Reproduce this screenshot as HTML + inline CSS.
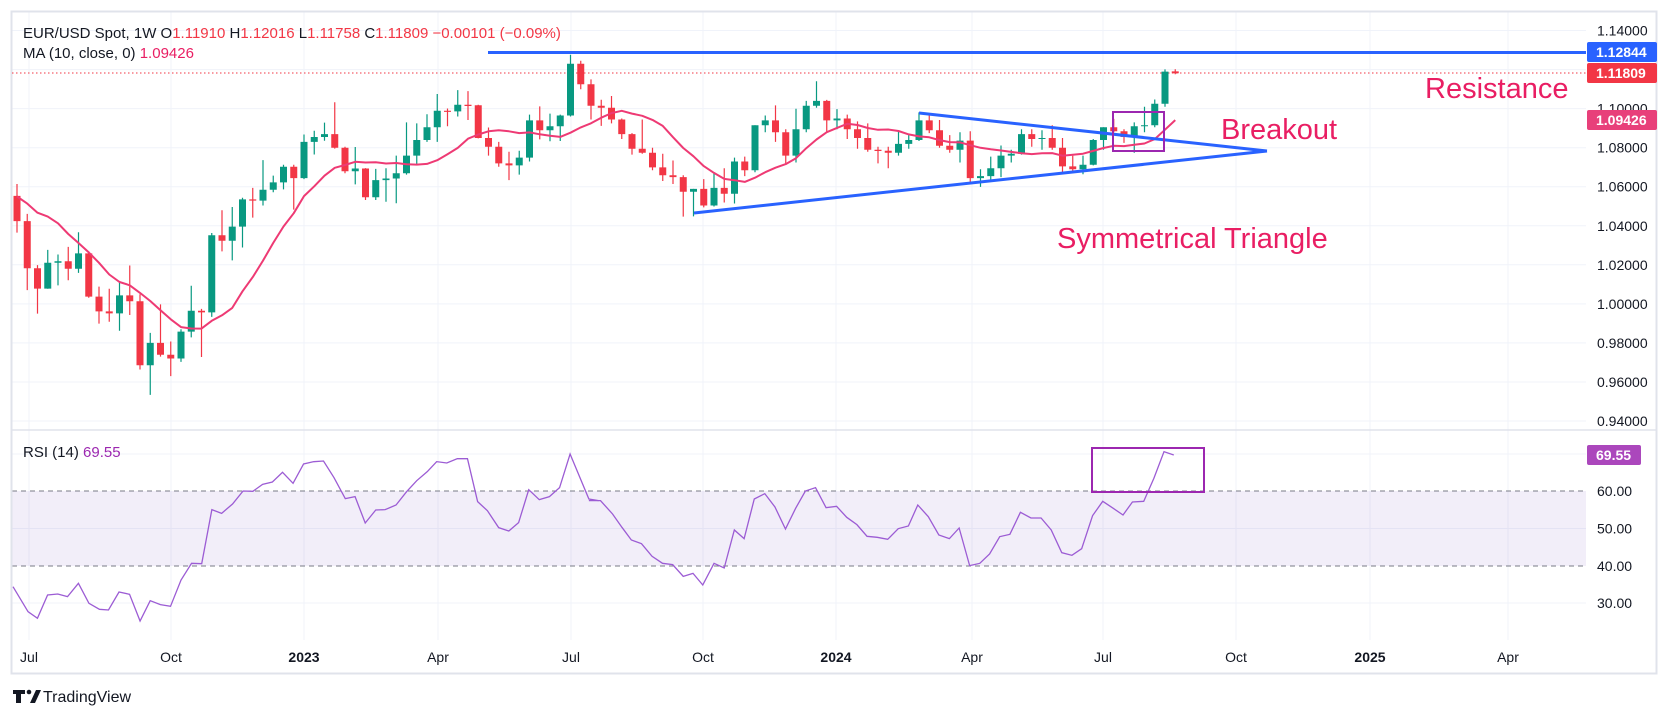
<!DOCTYPE html>
<html><head><meta charset="utf-8"><style>
html,body{margin:0;padding:0;background:#fff;}
svg{display:block;font-family:"Liberation Sans",sans-serif;}
</style></head><body>
<svg width="1675" height="718" viewBox="0 0 1675 718" xmlns="http://www.w3.org/2000/svg">
<rect x="0" y="0" width="1675" height="718" fill="#fff"/>
<g stroke="#f0f3fa" stroke-width="1">
<path d="M29 12V640M171 12V640M304 12V640M438 12V640M571 12V640M703 12V640M836 12V640M972 12V640M1103 12V640M1236 12V640M1370 12V640M1508 12V640"/>
<path d="M12 30.5H1586M12 69.6H1586M12 108.6H1586M12 147.7H1586M12 186.7H1586M12 225.8H1586M12 264.8H1586M12 303.9H1586M12 342.9H1586M12 382H1586M12 421H1586"/>
<path d="M12 454H1586M12 528.5H1586M12 603H1586"/>
</g>
<rect x="12" y="491" width="1574" height="75" fill="#7e57c2" fill-opacity="0.1"/>
<line x1="12" y1="491" x2="1586" y2="491" stroke="#787b86" stroke-dasharray="5,4"/>
<line x1="12" y1="566" x2="1586" y2="566" stroke="#787b86" stroke-dasharray="5,4"/>
<line x1="12" y1="430" x2="1656" y2="430" stroke="#e0e3eb" stroke-width="1.5"/>
<rect x="11.5" y="11.5" width="1645" height="662" fill="none" stroke="#e0e3eb" stroke-width="2"/>
<line x1="12" y1="73" x2="1586" y2="73" stroke="#f23645" stroke-dasharray="1.5,2.5"/>
<g transform="translate(0,1.5)">
<path fill="none" stroke="#f23645" stroke-width="1.2" d="M17 182.5V231.1M27.25 212.4V288.6M37.5 263.6V312.1M68.25 245.4V278.7M88.75 249.9V296.2M99 285.1V322.1M109.25 287.3V320.3M129.75 264V313.5M140 292.7V368M160.5 302.9V355.1M170.75 340V374.6M201.5 307.4V355.5M222 208.7V249.9M252.75 186.4V216.1M293.75 163.3V208.1M334.75 100.7V147.1M345 145.3V171.7M365.5 166.6V198.5M447.5 107V124.8M468 89.6V118.5M478.25 103.3V136.9M488.5 126V154.1M498.75 140.4V165.3M509 150.2V178.6M539.75 104.9V137.9M580.75 59.3V87.7M591 77.9V118M601.25 98.2V124.4M611.5 94.5V121.9M621.75 117V137.5M632 131.6V153.1M642.25 118V152.2M652.5 146.3V168.8M662.75 152.2V179.5M673 159V182.5M683.25 173.7V215.1M703.75 177.6V205.9M724.25 166.8V201M744.75 155.1V174.6M775.5 103.9V140.4M785.75 127.7V161.9M826.75 98.4V130.7M847.25 113.1V137.5M857.5 119.9V147.3M867.75 121.9V150.2M878 145.3V161.9M888.25 145.3V166.8M929.25 114V131.6M939.5 118.5V146.3M949.75 133.6V151.2M970.25 129.7V181.5M1031.75 127.7V145.3M1052.25 123.8V148.3M1062.5 136.5V171.7M1072.75 154.1V171.7M1113.75 117.4V130.7M1124 127.7V141.4M1175.25 67.7V72.8"/>
<path fill="#f23645" d="M13.5 194.4h7V219.6h-7zM23.75 219.6h7V266.7h-7zM34 266.7h7V287.1h-7zM64.75 259.7h7V267.3h-7zM85.25 251.9h7V295.1h-7zM95.5 295.1h7V309.9h-7zM105.75 309.9h7V311.9h-7zM126.25 293.9h7V299.8h-7zM136.5 299.8h7V363.7h-7zM157 341.4h7V353.3h-7zM167.25 353.3h7V357h-7zM198 309.3h7V310.9h-7zM218.5 233.7h7V239.2h-7zM249.25 197.9h7V199.1h-7zM290.25 165.3h7V176.6h-7zM331.25 132.6h7V146.3h-7zM341.5 146.3h7V169.8h-7zM362 167h7V195.8h-7zM444 109.2h7V110.4h-7zM464.5 103.3h7V104.5h-7zM474.75 103.7h7V136.5h-7zM485 136.5h7V145.3h-7zM495.25 145.3h7V161.9h-7zM505.5 161.9h7V163.9h-7zM536.25 118.9h7V128.7h-7zM577.25 62.2h7V82.8h-7zM587.5 82.8h7V104.3h-7zM597.75 104.3h7V106.2h-7zM608 106.2h7V118h-7zM618.25 118h7V132.6h-7zM628.5 132.6h7V147.3h-7zM638.75 147.3h7V151.2h-7zM649 151.2h7V165.9h-7zM659.25 165.9h7V173.7h-7zM669.5 173.7h7V175.6h-7zM679.75 175.6h7V190.3h-7zM700.25 187.4h7V204h-7zM720.75 186.4h7V192.2h-7zM741.25 160h7V168.8h-7zM772 118.9h7V130.7h-7zM782.25 130.7h7V154.1h-7zM823.25 99.4h7V118.9h-7zM843.75 117h7V127.7h-7zM854 127.7h7V136.5h-7zM864.25 136.5h7V148.3h-7zM874.5 148.3h7V149.5h-7zM884.75 149.2h7V151.2h-7zM925.75 118.9h7V128.7h-7zM936 128.7h7V144.3h-7zM946.25 144.3h7V148.3h-7zM966.75 139.1h7V176.6h-7zM1028.25 132.6h7V137.5h-7zM1048.75 136.5h7V146.3h-7zM1059 146.3h7V164.9h-7zM1069.25 164.9h7V167.8h-7zM1110.25 125.8h7V129.7h-7zM1120.5 129.7h7V135.5h-7zM1171.75 69.9h7V71.8h-7z"/>
<path fill="none" stroke="#089981" stroke-width="1.2" d="M47.75 248.4V287.3M58 253V283.9M78.5 230.8V271.4M119.5 280.6V329.3M150.25 331.4V393.4M181 327.7V360.4M191.25 284.3V335.9M211.75 231.5V315.4M232.25 205.5V258.9M242.5 196.2V246M263 158.6V204M273.25 174.1V190.7M283.5 163.3V187.9M304 133V177.6M314.25 129.3V153M324.5 121.1V139.3M355.25 145.5V182.9M375.75 167.4V198.5M386 166.8V200.3M396.25 154.1V201.8M406.5 120.9V173.1M416.75 121.9V163.1M427 112.7V140.4M437.25 92.5V140.4M457.75 88.6V115M519.25 149.2V173.1M529.5 113.1V160M550 112.1V139.7M560.25 113.1V139.5M570.5 53.2V115M693.5 187.4V214.9M714 171.7V205M734.5 156.1V202M755 123.8V170.7M765.25 114V130.7M796 107.2V161M806.25 99.4V130.7M816.5 79.8V106.2M837 107.6V127.7M898.5 129.1V154.1M908.75 133.6V147.3M919 110.9V139.5M960 130.7V161M980.5 167.8V185.4M990.75 155.1V179.5M1001 144V175.6M1011.25 148.3V161M1021.5 127.7V153.1M1042 128.7V148.3M1083 154.1V172.7M1093.25 137.5V163.9M1103.5 125.8V148.3M1134.25 120.9V151.2M1144.5 105.2V130.7M1154.75 98V125.8M1165 67.9V105.2"/>
<path fill="#089981" d="M44.25 261.3h7V287.1h-7zM54.5 259.7h7V261.3h-7zM75 251.9h7V267.3h-7zM116 293.9h7V311.9h-7zM146.75 341.4h7V363.7h-7zM177.5 330.1h7V357h-7zM187.75 309.3h7V330.1h-7zM208.25 233.7h7V310.9h-7zM228.75 225.1h7V239.2h-7zM239 197.9h7V225.1h-7zM259.5 188.3h7V199.1h-7zM269.75 180.9h7V188.3h-7zM280 165.3h7V180.9h-7zM300.5 140.4h7V176.6h-7zM310.75 135.5h7V140.4h-7zM321 132.6h7V135.5h-7zM351.75 167h7V169.8h-7zM372.25 178.6h7V195.8h-7zM382.5 177h7V178.6h-7zM392.75 171.7h7V177h-7zM403 154.1h7V171.7h-7zM413.25 138.5h7V154.1h-7zM423.5 125.8h7V138.5h-7zM433.75 109.2h7V125.8h-7zM454.25 103.3h7V109.9h-7zM515.75 156.1h7V163.9h-7zM526 118.9h7V156.1h-7zM546.5 124.8h7V128.7h-7zM556.75 114h7V124.8h-7zM567 62.2h7V114h-7zM690 187.4h7V190.3h-7zM710.5 186.4h7V204h-7zM731 160h7V192.2h-7zM751.5 123.8h7V168.8h-7zM761.75 118.9h7V123.8h-7zM792.5 127.7h7V154.1h-7zM802.75 104.3h7V127.7h-7zM813 99.4h7V104.3h-7zM833.5 117h7V118.9h-7zM895 142.4h7V151.2h-7zM905.25 138.5h7V142.4h-7zM915.5 118.9h7V138.5h-7zM956.5 139.1h7V148.3h-7zM977 174.6h7V176.6h-7zM987.25 166.8h7V174.6h-7zM997.5 154.1h7V166.8h-7zM1007.75 152.2h7V154.1h-7zM1018 132.6h7V152.2h-7zM1038.5 136.5h7V137.5h-7zM1079.5 163.3h7V167.8h-7zM1089.75 138.5h7V163.3h-7zM1100 125.8h7V138.5h-7zM1130.75 124.8h7V135.5h-7zM1141 123.8h7V124.8h-7zM1151.25 102.3h7V123.8h-7zM1161.5 70.1h7V102.3h-7z"/>
<polyline fill="none" stroke="#ee3a74" stroke-width="2" stroke-linejoin="round" points="17,195 27.25,202.1 37.5,211.2 47.75,215.1 58,221.8 68.25,232.5 78.5,241.5 88.75,250.9 99,261.3 109.25,273 119.5,280.5 129.75,283.8 140,291.4 150.25,299.5 160.5,308.8 170.75,317.8 181,325.6 191.25,327 201.5,327.1 211.75,319.3 222,313.8 232.25,306.4 242.5,289.8 252.75,275.6 263,259.1 273.25,241.4 283.5,225 293.75,211.7 304,194.6 314.25,184.8 324.5,174.2 334.75,166.3 345,163.5 355.25,160.3 365.5,161 375.75,160.8 386,162 396.25,161.5 406.5,162.8 416.75,163.1 427,162.4 437.25,158.7 447.5,152.7 457.75,146.4 468,137.2 478.25,133 488.5,129.8 498.75,128.8 509,129.8 519.25,131.6 529.5,130.9 539.75,132.8 550,134.3 560.25,135.4 570.5,131.2 580.75,125.9 591,121.8 601.25,116.2 611.5,111.6 621.75,109.3 632,112.1 642.25,114.3 652.5,118.4 662.75,124.4 673,135.7 683.25,146.5 693.5,154.8 703.75,164.6 714,171.4 724.25,177.4 734.5,178.7 744.75,180.4 755,176.2 765.25,170.7 775.5,166.2 785.75,162.6 796,156.7 806.25,146.7 816.5,138 826.75,130.7 837,126.4 847.25,122.3 857.5,123.5 867.75,126.5 878,128.3 888.25,128 898.5,129.5 908.75,132.9 919,134.9 929.25,135.8 939.5,138.6 949.75,140.6 960,140.9 970.25,143.7 980.5,146.3 990.75,147.8 1001,149 1011.25,150.4 1021.5,151.7 1031.75,152.6 1042,151.8 1052.25,151.6 1062.5,154.2 1072.75,153.3 1083,152.2 1093.25,149.4 1103.5,146.5 1113.75,144.3 1124,144.6 1134.25,143.3 1144.5,142 1154.75,137.6 1165,128.2 1175.25,118.6"/>
</g>
<g transform="translate(10,440) scale(0.3759,0.3333)">
<polyline fill="none" stroke="#9c5cd4" stroke-width="1.3" vector-effect="non-scaling-stroke" points="8,440 48,515 73,535 100,465 127,462 153,470 182,430 210,490 238,508 262,510 290,456 318,463 346,543 373,482 400,494 427,499 455,420 483,370 510,371 537,209 563,220 592,192 620,153 646,154 672,133 698,126 725,97 753,130 781,72 808,65 834,63 862,113 892,176 918,170 945,249 973,210 998,209 1027,195 1055,155 1082,122 1110,95 1135,65 1162,69 1190,56 1217,56 1244,185 1270,212 1300,263 1327,273 1353,248 1380,149 1408,179 1435,170 1462,143 1490,42 1540,177 1566,182"/>
</g>
<g transform="translate(590,440) scale(0.3759,0.3333)">
<polyline fill="none" stroke="#9c5cd4" stroke-width="1.3" vector-effect="non-scaling-stroke" points="-3,182 28,182 60,222 85,262 110,300 137,311 165,349 193,370 220,374 248,409 274,400 300,435 330,370 357,384 384,270 410,296 437,177 465,161 492,201 520,267 547,205 573,153 600,143 628,203 656,199 683,232 710,254 737,289 764,292 792,298 820,266 847,258 872,195 900,230 928,285 956,296 982,264 1010,377 1037,370 1063,342 1090,290 1117,283 1145,217 1173,234 1200,234 1227,270 1255,338 1282,346 1308,326 1337,227 1364,184 1392,205 1418,225 1443,186 1473,184 1500,115 1527,35 1553,45"/>
</g>
<line x1="488" y1="52.5" x2="1586" y2="52.5" stroke="#2962ff" stroke-width="3"/>
<line x1="919" y1="113" x2="1267" y2="151" stroke="#2962ff" stroke-width="3"/>
<line x1="694" y1="213" x2="1267" y2="151" stroke="#2962ff" stroke-width="3"/>
<rect x="1113" y="112" width="51" height="39" fill="none" stroke="#9c27b0" stroke-width="2"/>
<rect x="1092" y="448" width="112" height="44" fill="none" stroke="#9c27b0" stroke-width="2"/>
<g fill="#e91e63" font-size="29">
<text x="1425" y="98">Resistance</text>
<text x="1221" y="139">Breakout</text>
<text x="1057" y="248">Symmetrical Triangle</text>
</g>
<g font-size="15" fill="#131722">
<text x="23" y="38">EUR/USD Spot, 1W O<tspan fill="#f23645">1.11910</tspan> H<tspan fill="#f23645">1.12016</tspan> L<tspan fill="#f23645">1.11758</tspan> C<tspan fill="#f23645">1.11809</tspan> <tspan fill="#f23645">−0.00101 (−0.09%)</tspan></text>
<text x="23" y="58">MA (10, close, 0) <tspan fill="#e91e63">1.09426</tspan></text>
<text x="23" y="457">RSI (14) <tspan fill="#9c27b0">69.55</tspan></text>
</g>
<g font-size="14" fill="#131722">
<text x="1597" y="35.5">1.14000</text>
<text x="1597" y="113.6">1.10000</text>
<text x="1597" y="152.7">1.08000</text>
<text x="1597" y="191.7">1.06000</text>
<text x="1597" y="230.8">1.04000</text>
<text x="1597" y="269.8">1.02000</text>
<text x="1597" y="308.9">1.00000</text>
<text x="1597" y="347.9">0.98000</text>
<text x="1597" y="387">0.96000</text>
<text x="1597" y="426">0.94000</text>
<text x="1597" y="496">60.00</text>
<text x="1597" y="533.5">50.00</text>
<text x="1597" y="571">40.00</text>
<text x="1597" y="608">30.00</text>
</g>
<rect x="1587" y="42" width="70" height="20" rx="2" fill="#2962ff"/>
<text x="1596" y="57" font-size="14" font-weight="bold" fill="#fff">1.12844</text>
<rect x="1587" y="63" width="70" height="20" rx="2" fill="#f23645"/>
<text x="1596" y="78" font-size="14" font-weight="bold" fill="#fff">1.11809</text>
<rect x="1587" y="110" width="70" height="20" rx="2" fill="#e8407a"/>
<text x="1596" y="125" font-size="14" font-weight="bold" fill="#fff">1.09426</text>
<rect x="1587" y="445" width="54" height="20" rx="2" fill="#ab47bc"/>
<text x="1596" y="460" font-size="14" font-weight="bold" fill="#fff">69.55</text>
<g font-size="14" fill="#131722" text-anchor="middle">
<text x="29" y="662">Jul</text>
<text x="171" y="662">Oct</text>
<text x="304" y="662" font-weight="bold">2023</text>
<text x="438" y="662">Apr</text>
<text x="571" y="662">Jul</text>
<text x="703" y="662">Oct</text>
<text x="836" y="662" font-weight="bold">2024</text>
<text x="972" y="662">Apr</text>
<text x="1103" y="662">Jul</text>
<text x="1236" y="662">Oct</text>
<text x="1370" y="662" font-weight="bold">2025</text>
<text x="1508" y="662">Apr</text>
</g>
<g fill="#131722">
<path d="M13 690h12v4h-4v9h-5v-9h-3z"/>
<circle cx="29" cy="692" r="2.3"/>
<path d="M30 703l6-13h5l-6 13z"/>
</g>
<text x="43" y="702" font-size="16" fill="#131722">TradingView</text>
</svg>
</body></html>
